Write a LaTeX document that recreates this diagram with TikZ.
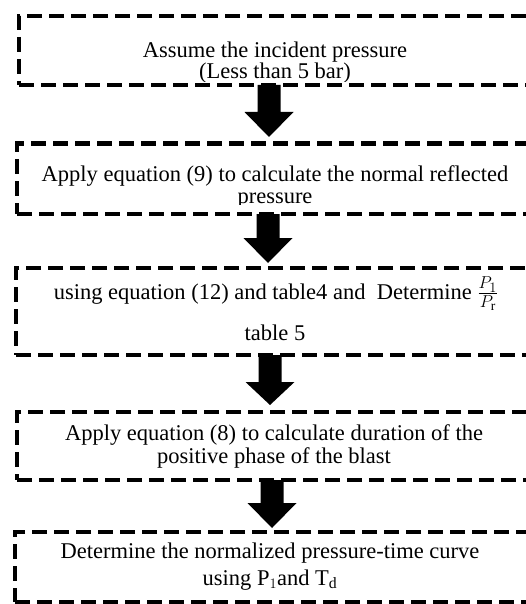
\documentclass[tikz,border=0pt]{standalone}
\usepackage{fontspec}
\setmainfont{Liberation Serif}
\usetikzlibrary{calc}
\newcommand\blkarrow[5]{% from node, to node, x, head start y, tip y
  \fill let \p1=(#1.south) in
    (#3-11.5,\y1) -- (#3+11.5,\y1) -- (#3+11.5,#4) -- (#3+24.5,#4)
    -- (#3,#5) -- (#3-24.5,#4) -- (#3-11.5,#4) -- cycle;}
\begin{document}
\begin{tikzpicture}[x=1pt,y=-1pt,
  box/.style={draw, line width=4.5pt, dash pattern=on 15pt off 7pt,
    inner sep=0pt, outer sep=0pt, anchor=north west},
  txt/.style={anchor=base, inner sep=0pt, font=\fontsize{22.5}{23}\selectfont}]
\useasboundingbox (0,0) rectangle (526,604);

% boxes
\node[box, minimum width=516pt, minimum height=69pt]   (box1) at (19,16) {};
\node[box, minimum width=518pt, minimum height=70.5pt] (box2) at (17,143.5) {};
\node[box, minimum width=519pt, minimum height=87pt]   (box3) at (16,268) {};
\node[box, minimum width=518pt, minimum height=68pt]   (box4) at (17,412) {};
\node[box, minimum width=520pt, minimum height=70pt]   (box5) at (15,532) {};

% texts
\begin{scope}
  \clip (19,16) rectangle (535,82);
  \node[txt] (t1a) at (275,58) {Assume the incident pressure};
  \node[txt] (t1b) at (275,78.5) {(Less than 5 bar)};
\end{scope}
\begin{scope}
  \clip (17,143.5) rectangle (535,204.5);
  \node[txt] (t2a) at (275,182) {Apply equation (9) to calculate the normal reflected};
  \node[txt] (t2b) at (275,203) {pressure};
\end{scope}
\node[txt] (t3a) at (276,299) {using equation (12) and table4 and\ \ Determine {\fontsize{27}{27}\selectfont$\frac{P_1}{P_{\mathrm{r}}}$}};
\node[txt] (t3b) at (275,340) {table 5};
\node[txt] (t4a) at (274,440) {Apply equation (8) to calculate duration of the};
\node[txt] (t4b) at (274,463) {positive phase of the blast};
\node[txt] (t5a) at (270,558) {Determine the normalized pressure-time curve};
\node[txt] (t5b) at (270,585) {using P$_1$and T$_\mathrm{d}$};

% block arrows
\blkarrow{box1}{box2}{269}{112}{137}
\blkarrow{box2}{box3}{268}{238}{263}
\blkarrow{box3}{box4}{270}{382}{405}
\blkarrow{box4}{box5}{272}{503}{528}
\end{tikzpicture}
\end{document}
